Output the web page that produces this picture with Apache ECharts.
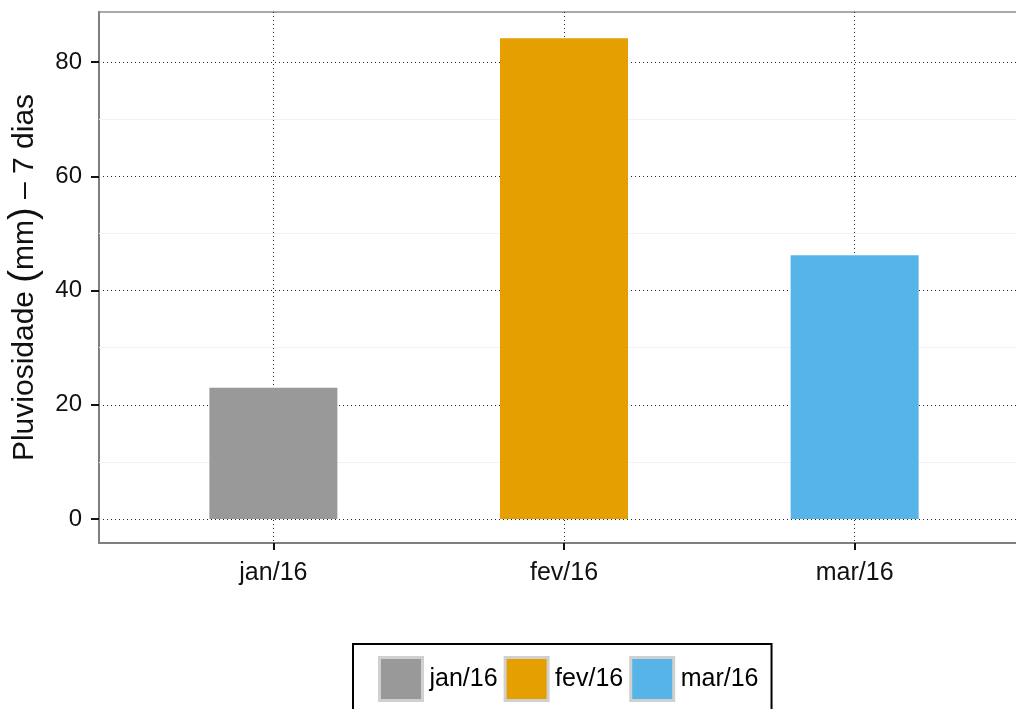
<!DOCTYPE html>
<html>
<head>
<meta charset="utf-8">
<script src="https://cdn.jsdelivr.net/npm/echarts@6/dist/echarts.min.js"></script>
<style>
  html, body { margin: 0; padding: 0; background: #fff; }
  #chart { width: 1016px; height: 709px; }
</style>
</head>
<body>
<div id="chart"></div>
<script>
// dados
const categories = ['jan/16', 'fev/16', 'mar/16']
const rainfall = [23, 84.2, 46.2]
const barColors = ['#999999', '#E69F00', '#56B4E9']
const yTicks = [0, 20, 40, 60, 80]
const yMinorBreaks = [10, 30, 50, 70]
const xPositions = [1, 2, 3]

const font = 'Liberation Sans, Arial, sans-serif'
const chart = echarts.init(document.getElementById('chart'))

const series = categories.map((name, i) => ({
  name,
  type: 'bar',
  barWidth: 128,
  barGap: '-100%',
  data: [[xPositions[i], rainfall[i]]],
  itemStyle: { color: barColors[i] },
  z: 3
}))

// linhas secundárias (minor) quase invisíveis
series[0].markLine = {
  silent: true,
  symbol: 'none',
  label: { show: false },
  lineStyle: { color: '#f2f2f2', type: 'solid', width: 1 },
  data: yMinorBreaks.map(v => ({ yAxis: v })),
  z: 1
}

const option = {
  backgroundColor: '#fff',
  animation: false,
  grid: {
    left: 99, top: 12, right: -13, bottom: 166,
    outerBoundsMode: 'none',
    show: true, borderColor: '#aaaaaa', borderWidth: 2
  },
  xAxis: {
    type: 'value', min: 0.4, max: 3.6,
    axisLine: { show: true, onZero: false, lineStyle: { color: '#7f7f7f', width: 2 } },
    axisTick: { show: true, length: 7, customValues: xPositions, lineStyle: { color: '#111', width: 2 } },
    axisLabel: {
      customValues: xPositions, margin: 18,
      formatter: v => categories[Math.round(v) - 1] || '',
      fontSize: 25, color: '#111', fontFamily: font
    },
    splitLine: { show: true, lineStyle: { color: '#222', type: [1, 3], width: 1 } }
  },
  yAxis: {
    type: 'value', min: -4.2, max: 88.8,
    name: 'Pluviosidade {p|(}mm{p|)} – 7 dias',
    nameLocation: 'middle', nameGap: 55,
    nameTextStyle: {
      fontSize: 30, color: '#111', fontFamily: font,
      rich: { p: { fontSize: 38, color: '#111', fontFamily: font } }
    },
    axisLine: { show: true, onZero: false, lineStyle: { color: '#7f7f7f', width: 2 } },
    axisTick: { show: true, length: 8, customValues: yTicks, lineStyle: { color: '#111', width: 2 } },
    axisLabel: {
      customValues: yTicks, margin: 17,
      fontSize: 24, color: '#111', fontFamily: font
    },
    splitLine: { show: true, lineStyle: { color: '#222', type: [1, 3], width: 1 } }
  },
  legend: {
    left: 353, top: 644,
    data: categories,
    icon: 'rect',
    itemWidth: 43, itemHeight: 43, itemGap: 6,
    padding: [12, 13, 14, 25],
    borderColor: '#000', borderWidth: 2,
    itemStyle: { borderColor: '#d0d0d0', borderWidth: 3 },
    textStyle: { fontSize: 25, color: '#000', fontFamily: font, padding: [0, 0, 0, 2] }
  },
  series
}

chart.setOption(option)
</script>
</body>
</html>
